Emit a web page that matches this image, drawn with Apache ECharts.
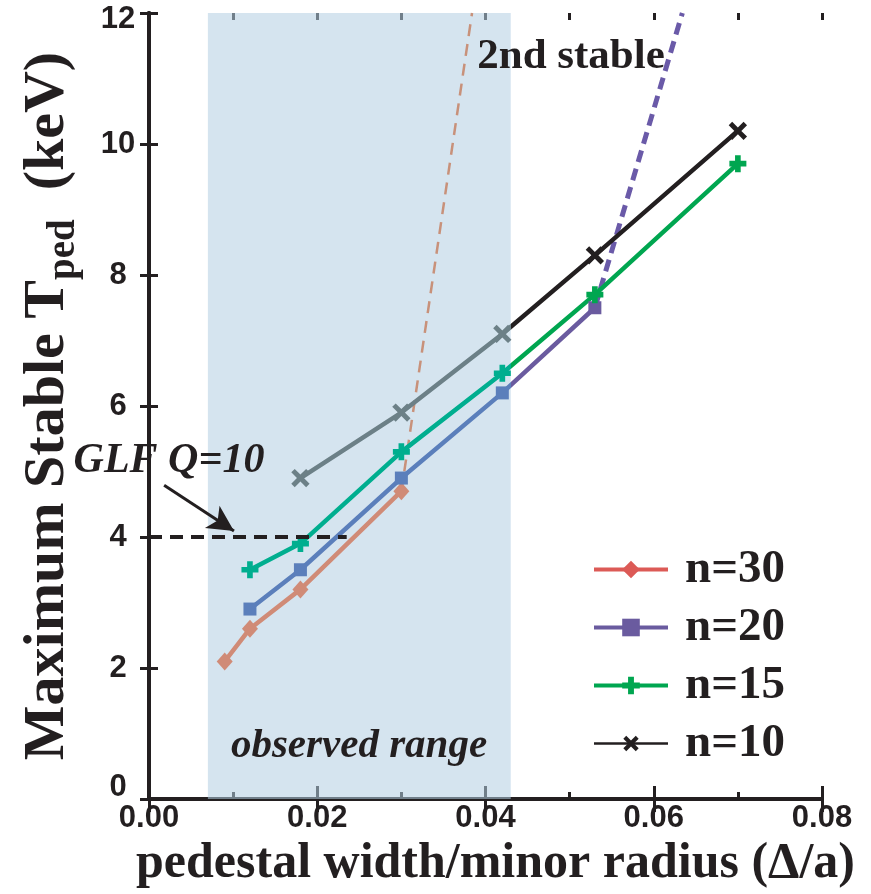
<!DOCTYPE html>
<html><head><meta charset="utf-8">
<script src="https://cdn.jsdelivr.net/npm/echarts@6/dist/echarts.min.js"></script>
<style>html,body{margin:0;padding:0;background:#fff}#c{width:871px;height:894px}</style>
</head><body><div id="c"></div>
<script>
// ---- data ----
const seriesNames = ['n=30', 'n=20', 'n=15', 'n=10'];
const n30 = [[0.009, 2.1], [0.012, 2.6], [0.018, 3.2], [0.030, 4.7]];
const n20 = [[0.012, 2.9], [0.018, 3.5], [0.030, 4.9], [0.042, 6.2], [0.053, 7.5]];
const n15 = [[0.012, 3.5], [0.018, 3.9], [0.030, 5.3], [0.042, 6.5], [0.053, 7.7], [0.070, 9.7]];
const n10 = [[0.018, 4.9], [0.030, 5.9], [0.042, 7.1], [0.053, 8.3], [0.070, 10.2]];
const n30Stable = [[0.030, 4.7], [0.0384, 12]];
const n20Stable = [[0.053, 7.5], [0.0634, 12]];
const glfLine = [[0, 4], [0.0235, 4]];
const glfArrow = [[0.0018, 4.79], [0.0101, 4.09]];
const observedRange = [0.007, 0.043];
const xTickLabels = ['0.00', '0.02', '0.04', '0.06', '0.08'];
const yTickLabels = ['0', '2', '4', '6', '8', '10', '12'];

// ---- styles ----
const outColors = ['#dc5a56', '#6a5b9f', '#00a650', '#231f20'];
const inColors = ['#d08b77', '#5b7fbb', '#00ae8f', '#6c8087'];
const PLUS = 'path://M-1,-3H1V-1H3V1H1V3H-1V1H-3V-1H-1Z';
const CROSS = 'path://M-0.7,-3H0.7V-0.7H3V0.7H0.7V3H-0.7V0.7H-3V-0.7H-0.7Z';
const symbols = ['diamond', 'rect', PLUS, CROSS];
const symbolSizes = [[16, 18], 13, 17, 21];
const symbolRotates = [0, 0, 0, 45];
const dataSets = [n30, n20, n15, n10];
const serif = 'Liberation Serif';
const sans = 'Liberation Sans';
const ink = '#231f20';
const W = 871;

const chart = echarts.init(document.getElementById('c'), null, { renderer: 'canvas' });

function inRange(x) { return x >= observedRange[0] && x <= observedRange[1]; }

function buildOption(px0, px1) {
  const mainSeries = dataSets.map((d, i) => {
    let lineColor = outColors[i];
    if (px0 != null) {
      const a = px0 / W, b = px1 / W;
      lineColor = new echarts.graphic.LinearGradient(0, 0, W, 0, [
        { offset: 0, color: outColors[i] }, { offset: a, color: outColors[i] },
        { offset: a, color: inColors[i] }, { offset: b, color: inColors[i] },
        { offset: b, color: outColors[i] }, { offset: 1, color: outColors[i] }
      ], true);
    }
    return {
      name: seriesNames[i], type: 'line', data: d, z: 3,
      symbol: symbols[i], symbolSize: symbolSizes[i], symbolRotate: symbolRotates[i],
      showSymbol: true,
      lineStyle: { width: 4.5, color: lineColor },
      itemStyle: { color: (p) => inRange(p.data[0]) ? inColors[i] : outColors[i] },
      emphasis: { disabled: true }
    };
  });

  const axisLine = { show: true, lineStyle: { color: ink, width: 4 } };
  const minorX = (pos) => ({
    type: 'value', min: 0, max: 0.08, interval: 0.01, position: pos,
    axisLine: { show: false },
    axisTick: { inside: true, length: 7, lineStyle: { color: ink, width: 3 } },
    splitLine: { show: false }, axisLabel: { show: false }
  });

  return {
    animation: false,
    backgroundColor: '#fff',
    grid: { left: 149, right: 49, top: 13, bottom: 95 },
    legend: {
      orient: 'vertical', left: 587, top: 541,
      itemWidth: 74, itemHeight: 22, itemGap: 11,
      data: seriesNames.map((n, i) => ({
        name: n,
        itemStyle: { color: outColors[i] },
        lineStyle: { color: outColors[i], width: i === 3 ? 2.5 : 4 }
      })),
      textStyle: { fontFamily: serif, fontWeight: 'bold', fontSize: 47, lineHeight: 46, color: ink, padding: [0, 0, 0, 12] },
      selectedMode: false
    },
    xAxis: [{
      type: 'value', min: 0, max: 0.08, interval: 0.02, position: 'bottom',
      axisLine,
      axisTick: { inside: true, length: 13, lineStyle: { color: ink, width: 3 } },
      splitLine: { show: false },
      axisLabel: {
        margin: 4, color: ink, fontFamily: sans, fontWeight: 'bold', fontSize: 31,
        formatter: (v, idx) => xTickLabels[idx]
      },
      name: 'pedestal width/minor radius (\u0394/a)', nameLocation: 'middle', nameGap: 30,
      nameTextStyle: { fontFamily: serif, fontWeight: 'bold', fontSize: 50, color: ink, padding: [0, 0, 0, 20] }
    }, {
      type: 'value', min: 0, max: 0.08, interval: 0.02, position: 'top',
      axisLine,
      axisTick: { inside: true, length: 13, lineStyle: { color: ink, width: 3 } },
      splitLine: { show: false }, axisLabel: { show: false }
    }, minorX('bottom'), minorX('top')],
    yAxis: [{
      type: 'value', min: 0, max: 12, interval: 2, position: 'left',
      axisLine,
      axisTick: { inside: true, length: 9, lineStyle: { color: ink, width: 3 } },
      splitLine: { show: false },
      axisLabel: {
        margin: 31, align: 'center', color: ink, fontFamily: sans, fontWeight: 'bold', fontSize: 31,
        formatter: (v, idx) => {
          const t = yTickLabels[idx];
          if (idx === 0) return '{lo|' + t + '}';
          if (idx === yTickLabels.length - 1) return '{hi|' + t + '}';
          return t;
        },
        rich: {
          lo: { fontFamily: sans, fontWeight: 'bold', fontSize: 31, color: ink, padding: [0, 0, 23, 0] },
          hi: { fontFamily: sans, fontWeight: 'bold', fontSize: 31, color: ink, padding: [12, 0, 0, 0] }
        }
      },
      name: '{m|Maximum Stable T}{s|ped}{m|  (keV)}', nameLocation: 'middle', nameGap: 66, nameRotate: 90,
      nameTextStyle: {
        rich: {
          m: { fontFamily: serif, fontWeight: 'bold', fontSize: 58, lineHeight: 70, color: ink },
          s: { fontFamily: serif, fontWeight: 'bold', fontSize: 39, lineHeight: 38, verticalAlign: 'bottom', color: ink }
        }
      }
    }, {
      type: 'value', min: 0, max: 12, interval: 2, position: 'right',
      axisLine,
      axisTick: { inside: true, length: 9, lineStyle: { color: ink, width: 3 } },
      splitLine: { show: false }, axisLabel: { show: false }
    }],
    series: [
      ...mainSeries,
      {
        name: 'shade', type: 'line', data: [], z: 1, silent: true,
        markArea: {
          silent: true,
          itemStyle: { color: 'rgba(178,205,226,0.55)' },
          data: [[{ xAxis: observedRange[0] }, { xAxis: observedRange[1] }]]
        }
      },
      {
        name: 'n30 2nd', type: 'line', data: n30Stable, showSymbol: false, symbol: 'none', z: 2,
        lineStyle: { color: '#c8917a', width: 2.5, type: [12, 8] }, silent: true
      },
      {
        name: 'n20 2nd', type: 'line', data: n20Stable, showSymbol: false, symbol: 'none', z: 2,
        lineStyle: { color: '#6a5aa8', width: 5, type: [12, 7] }, silent: true
      },
      {
        name: 'glf', type: 'line', data: glfLine, showSymbol: false, symbol: 'none', z: 4, silent: true,
        lineStyle: { color: ink, width: 4, type: [13, 8] },
        markLine: {
          silent: true, symbol: ['none', 'arrow'], symbolSize: [20, 26],
          lineStyle: { type: 'solid', width: 3, color: ink },
          label: { show: false },
          data: [[{ coord: glfArrow[0] }, { coord: glfArrow[1] }]]
        }
      }
    ],
    graphic: [
      { type: 'text', x: 571, y: 57, z: 10, style: { text: '2nd stable', fontFamily: serif, fontWeight: 'bold', fontSize: 43, fill: ink, align: 'center', verticalAlign: 'middle' } },
      { type: 'text', x: 169, y: 461, z: 10, style: { text: 'GLF Q=10', fontFamily: serif, fontWeight: 'bold', fontStyle: 'italic', fontSize: 42, fill: ink, align: 'center', verticalAlign: 'middle' } },
      { type: 'text', x: 359, y: 746, z: 10, style: { text: 'observed range', fontFamily: serif, fontWeight: 'bold', fontStyle: 'italic', fontSize: 41, fill: ink, align: 'center', verticalAlign: 'middle' } }
    ]
  };
}

chart.setOption(buildOption(null, null));
const p0 = chart.convertToPixel({ xAxisIndex: 0 }, observedRange[0]);
const p1 = chart.convertToPixel({ xAxisIndex: 0 }, observedRange[1]);
chart.setOption(buildOption(p0, p1), true);
</script></body></html>
